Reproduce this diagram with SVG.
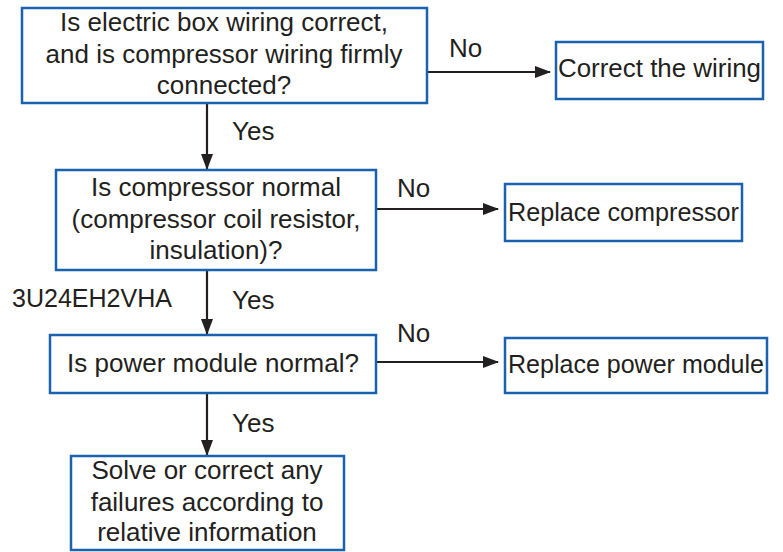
<svg xmlns="http://www.w3.org/2000/svg" width="783" height="552" viewBox="0 0 783 552">
<defs>
<style>
.box{fill:#fff;stroke:#1a62ae;stroke-width:2.5}
text{font-family:"Liberation Sans",Arial,sans-serif;font-size:26px;fill:#231f20}
.c{text-anchor:middle}
.ln{stroke:#231f20;stroke-width:2.2;fill:none}
</style>
<marker id="ah" markerWidth="16" markerHeight="12" refX="15" refY="6" orient="auto" markerUnits="userSpaceOnUse">
<path d="M0,0 L16,6 L0,12 Z" fill="#231f20"/>
</marker>
</defs>
<rect width="783" height="552" fill="#fff"/>
<g id="connectors">
<line class="ln" x1="427" y1="72" x2="550" y2="72" marker-end="url(#ah)"/>
<line class="ln" x1="207" y1="103" x2="207" y2="169" marker-end="url(#ah)"/>
<line class="ln" x1="376" y1="209" x2="498" y2="209" marker-end="url(#ah)"/>
<line class="ln" x1="207" y1="270" x2="207" y2="334" marker-end="url(#ah)"/>
<line class="ln" x1="376" y1="362" x2="498" y2="362" marker-end="url(#ah)"/>
<line class="ln" x1="207" y1="393" x2="207" y2="455" marker-end="url(#ah)"/>
<text x="449" y="57">No</text>
<text x="232" y="140">Yes</text>
<text x="397" y="197">No</text>
<text x="232" y="309">Yes</text>
<text x="397" y="342">No</text>
<text x="232" y="432">Yes</text>
</g>
<text x="12" y="307" textLength="160" lengthAdjust="spacingAndGlyphs">3U24EH2VHA</text>
<g id="q1">
<rect class="box" x="22" y="8" width="405" height="95"/>
<text class="c" x="224" y="31">Is electric box wiring correct,</text>
<text class="c" x="224" y="63">and is compressor wiring firmly</text>
<text class="c" x="224" y="94">connected?</text>
</g>
<g id="a1">
<rect class="box" x="556" y="42" width="207" height="57"/>
<text x="558" y="77" textLength="203" lengthAdjust="spacingAndGlyphs">Correct the wiring</text>
</g>
<g id="q2">
<rect class="box" x="56" y="170" width="320" height="100"/>
<text class="c" x="216" y="196">Is compressor normal</text>
<text class="c" x="216" y="228">(compressor coil resistor,</text>
<text class="c" x="216" y="259">insulation)?</text>
</g>
<g id="a2">
<rect class="box" x="505" y="184" width="237" height="57"/>
<text x="508" y="221" textLength="231" lengthAdjust="spacingAndGlyphs">Replace compressor</text>
</g>
<g id="q3">
<rect class="box" x="50" y="335" width="326" height="58"/>
<text class="c" x="213" y="372">Is power module normal?</text>
</g>
<g id="a3">
<rect class="box" x="505" y="338" width="262" height="55"/>
<text x="508" y="373" textLength="256" lengthAdjust="spacingAndGlyphs">Replace power module</text>
</g>
<g id="end">
<rect class="box" x="71" y="456" width="273" height="94"/>
<text class="c" x="207" y="479">Solve or correct any</text>
<text class="c" x="207" y="511">failures according to</text>
<text class="c" x="207" y="541">relative information</text>
</g>
</svg>
